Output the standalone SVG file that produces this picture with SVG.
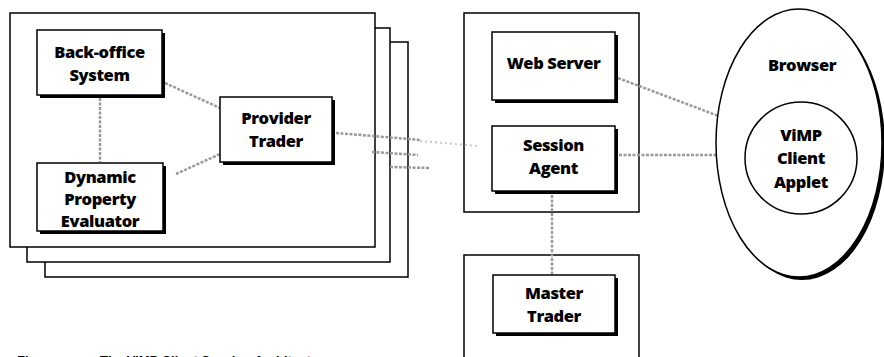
<svg xmlns="http://www.w3.org/2000/svg" width="884" height="357" viewBox="0 0 884 357">
  <style>
    .frame { fill: #fff; stroke: #000; stroke-width: 1.5; }
    .box { fill: #fff; stroke: #000; stroke-width: 1.5; }
    .shadow { fill: #000; }
    .lbl { font-family: "Open Sans", "Noto Sans", sans-serif; font-weight: 800; font-size: 16.5px; fill: #000; text-anchor: middle; letter-spacing: -0.4px; }
    .conn { fill: none; stroke: #9a9a9a; stroke-width: 2.5; stroke-dasharray: 3 1.5; }
    .faint { fill: none; stroke: #c8c8c8; stroke-width: 2; stroke-dasharray: 2 3; }
    .cap { font-family: "Liberation Sans", sans-serif; font-weight: 700; font-size: 13px; fill: #000; }
  </style>
  <rect width="884" height="357" fill="#fff"/>

  <g id="provider-stack">
    <rect class="frame" x="45" y="42" width="363" height="235"/>
    <rect class="frame" x="27" y="28" width="363" height="234"/>
    <rect class="frame" x="10" y="13" width="365" height="234"/>
  </g>

  <g id="server-frame">
    <rect class="frame" x="464" y="13" width="175" height="199"/>
  </g>
  <g id="master-frame">
    <rect class="frame" x="464" y="255" width="175" height="120"/>
  </g>

  <g id="connectors">
    <line class="conn" x1="100" y1="98" x2="100" y2="162"/>
    <line class="conn" x1="165" y1="83" x2="220" y2="108"/>
    <line class="conn" x1="176" y1="174" x2="220" y2="154"/>
    <line class="conn" x1="336" y1="133" x2="420" y2="140"/>
    <line class="conn" x1="372" y1="152" x2="418" y2="155"/>
    <line class="conn" x1="390" y1="167" x2="430" y2="168"/>
    <line class="faint" x1="420" y1="141" x2="478" y2="146"/>
    <line class="conn" x1="618" y1="78" x2="745" y2="126"/>
    <line class="conn" x1="619" y1="155" x2="716" y2="155"/>
    <line class="conn" x1="552" y1="195" x2="552" y2="275"/>
  </g>

  <g id="back-office">
    <rect class="shadow" x="40" y="33" width="125" height="65"/>
    <rect class="box" x="37" y="30" width="125" height="65"/>
    <text class="lbl" x="99.5" y="58">Back-office</text>
    <text class="lbl" x="99.5" y="81">System</text>
  </g>

  <g id="dpe">
    <rect class="shadow" x="40" y="166" width="126" height="68"/>
    <rect class="box" x="37" y="163" width="126" height="68"/>
    <text class="lbl" x="100" y="183">Dynamic</text>
    <text class="lbl" x="100" y="205">Property</text>
    <text class="lbl" x="100" y="227">Evaluator</text>
  </g>

  <g id="provider-trader">
    <rect class="shadow" x="223" y="100" width="112" height="65"/>
    <rect class="box" x="220" y="97" width="112" height="65"/>
    <text class="lbl" x="276" y="124">Provider</text>
    <text class="lbl" x="276" y="147">Trader</text>
  </g>

  <g id="web-server">
    <rect class="shadow" x="495" y="35" width="123" height="68"/>
    <rect class="box" x="492" y="32" width="123" height="68"/>
    <text class="lbl" x="553.5" y="69">Web Server</text>
  </g>

  <g id="session-agent">
    <rect class="shadow" x="495" y="129" width="123" height="65"/>
    <rect class="box" x="492" y="126" width="123" height="65"/>
    <text class="lbl" x="553.5" y="151">Session</text>
    <text class="lbl" x="553.5" y="174">Agent</text>
  </g>

  <g id="master-trader">
    <rect class="shadow" x="496" y="278" width="122" height="58"/>
    <rect class="box" x="493" y="275" width="122" height="58"/>
    <text class="lbl" x="554" y="299">Master</text>
    <text class="lbl" x="554" y="322">Trader</text>
  </g>

  <g id="browser">
    <ellipse cx="802" cy="146" rx="83" ry="134" fill="#000"/>
    <ellipse cx="799" cy="143" rx="83" ry="134" fill="#fff" stroke="#000" stroke-width="1.5"/>
    <text class="lbl" x="802" y="71">Browser</text>
  </g>

  <g id="vimp-applet">
    <circle cx="801" cy="158" r="56" fill="#fff" stroke="#000" stroke-width="1.5"/>
    <text class="lbl" x="801" y="141">ViMP</text>
    <text class="lbl" x="801" y="164">Client</text>
    <text class="lbl" x="801" y="188">Applet</text>
  </g>

  <g id="caption">
    <text class="cap" x="17" y="365">Figure</text>
    <text class="cap" x="100" y="365">The ViMP Client Session Architecture</text>
  </g>
</svg>
